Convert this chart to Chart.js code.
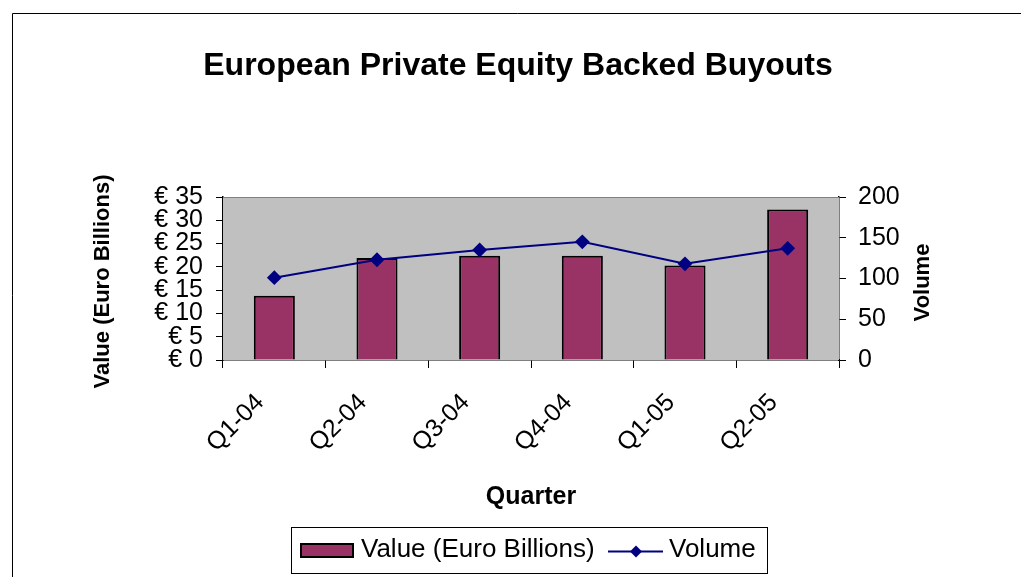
<!DOCTYPE html>
<html>
<head>
<meta charset="utf-8">
<script src="https://cdn.jsdelivr.net/npm/chart.js@4.4.1/dist/chart.umd.min.js"></script>
<style>
  html, body { margin: 0; padding: 0; background: #fff; }
  #wrap { width: 1021px; height: 577px; }
</style>
</head>
<body>
<div id="wrap"><canvas id="buyoutChart" width="1021" height="577"></canvas></div>
<script>
// data
const quarters = ['Q1-04', 'Q2-04', 'Q3-04', 'Q4-04', 'Q1-05', 'Q2-05'];
const valueBillions = [13.8, 21.9, 22.4, 22.4, 20.3, 32.3];
const volumeDeals = [101, 123, 135, 145, 118, 137];
const valueTicks = [0, 5, 10, 15, 20, 25, 30, 35];
const volumeTicks = [0, 50, 100, 150, 200];

const FONT = '"Liberation Sans", Arial, sans-serif';

// frame, plot background, titles and the boxed legend
const decorations = {
  id: 'decorations',
  beforeDatasetsDraw(chart) {
    const { ctx, chartArea: a } = chart;
    ctx.save();
    ctx.fillStyle = '#c0c0c0';
    ctx.fillRect(a.left, a.top, a.right - a.left, a.bottom - a.top);
    ctx.strokeStyle = '#808080';
    ctx.lineWidth = 1;
    ctx.beginPath();
    ctx.moveTo(a.left, a.top + 0.5);
    ctx.lineTo(a.right, a.top + 0.5);
    ctx.stroke();
    ctx.restore();
  },
  afterDraw(chart) {
    const { ctx, chartArea: a } = chart;
    const midY = (a.top + a.bottom) / 2;
    ctx.save();

    // outer frame
    ctx.strokeStyle = '#000';
    ctx.lineWidth = 1;
    ctx.beginPath();
    ctx.moveTo(12.5, 600);
    ctx.lineTo(12.5, 13.5);
    ctx.lineTo(1030, 13.5);
    ctx.stroke();

    ctx.fillStyle = '#000';
    ctx.textAlign = 'center';
    ctx.textBaseline = 'middle';

    ctx.font = 'bold 32px ' + FONT;
    ctx.fillText('European Private Equity Backed Buyouts', 518, 66);

    ctx.font = 'bold 25px ' + FONT;
    ctx.fillText('Quarter', (a.left + a.right) / 2, 497);

    ctx.font = 'bold 22px ' + FONT;
    ctx.save();
    ctx.translate(103, midY + 3);
    ctx.rotate(-Math.PI / 2);
    ctx.fillText('Value (Euro Billions)', 0, 0);
    ctx.restore();

    ctx.save();
    ctx.translate(923, midY + 4);
    ctx.rotate(-Math.PI / 2);
    ctx.fillText('Volume', 0, 0);
    ctx.restore();

    // legend
    const bars = chart.data.datasets.find(d => d.type === 'bar');
    const line = chart.data.datasets.find(d => d.type === 'line');
    ctx.strokeStyle = '#000';
    ctx.lineWidth = 1;
    ctx.strokeRect(291.5, 527.5, 476, 46);

    ctx.fillStyle = bars.backgroundColor;
    ctx.fillRect(301, 544, 52, 13);
    ctx.lineWidth = 2;
    ctx.strokeRect(301, 544, 52, 13);

    ctx.fillStyle = '#000';
    ctx.textAlign = 'left';
    ctx.font = '26px ' + FONT;
    ctx.fillText(bars.label, 361, 550);

    ctx.strokeStyle = line.borderColor;
    ctx.lineWidth = 2;
    ctx.beginPath();
    ctx.moveTo(608, 551.5);
    ctx.lineTo(663, 551.5);
    ctx.stroke();
    ctx.fillStyle = line.borderColor;
    ctx.beginPath();
    ctx.moveTo(636, 545.5);
    ctx.lineTo(642, 551.5);
    ctx.lineTo(636, 557.5);
    ctx.lineTo(630, 551.5);
    ctx.closePath();
    ctx.fill();

    ctx.fillStyle = '#000';
    ctx.fillText(line.label, 669, 550);
    ctx.restore();
  }
};

new Chart(document.getElementById('buyoutChart').getContext('2d'), {
  data: {
    labels: quarters,
    datasets: [
      {
        type: 'line',
        label: 'Volume',
        data: volumeDeals,
        yAxisID: 'y1',
        borderColor: '#000080',
        backgroundColor: '#000080',
        borderWidth: 2,
        pointStyle: 'rectRot',
        pointRadius: 6,
        pointHoverRadius: 6,
        tension: 0,
        order: 0
      },
      {
        type: 'bar',
        label: 'Value (Euro Billions)',
        data: valueBillions,
        yAxisID: 'y',
        backgroundColor: '#993366',
        borderColor: '#000',
        borderWidth: 2,
        barPercentage: 0.4,
        categoryPercentage: 1,
        order: 1
      }
    ]
  },
  options: {
    responsive: false,
    animation: false,
    layout: { padding: { top: 197, left: 0, right: 0, bottom: 0 } },
    plugins: {
      legend: { display: false },
      title: { display: false },
      tooltip: { enabled: false }
    },
    scales: {
      x: {
        grid: { drawOnChartArea: false, drawTicks: true, tickLength: 8, color: '#000', offset: true },
        border: { color: '#000', width: 1.5 },
        ticks: {
          font: { family: FONT, size: 25 },
          color: '#000',
          minRotation: 45,
          maxRotation: 45,
          autoSkip: false,
          labelOffset: -14,
          padding: 20
        },
        afterFit(s) { s.height = 217; }
      },
      y: {
        position: 'left',
        min: 0,
        max: 35,
        afterBuildTicks(s) { s.ticks = valueTicks.map(v => ({ value: v })); },
        grid: { drawOnChartArea: false, drawTicks: true, tickLength: 7, color: '#000' },
        border: { color: '#000', width: 1.5 },
        ticks: {
          font: { family: FONT, size: 25 },
          color: '#000',
          padding: 13,
          autoSkip: false,
          callback: v => '€ ' + v
        },
        afterFit(s) { s.width = 223; }
      },
      y1: {
        position: 'right',
        min: 0,
        max: 200,
        afterBuildTicks(s) { s.ticks = volumeTicks.map(v => ({ value: v })); },
        grid: { drawOnChartArea: false, drawTicks: true, tickLength: 7, color: '#000' },
        border: { color: '#000', width: 1.5 },
        ticks: {
          font: { family: FONT, size: 25 },
          color: '#000',
          padding: 12,
          autoSkip: false
        },
        afterFit(s) { s.width = 182; }
      }
    }
  },
  plugins: [decorations]
});
</script>
</body>
</html>
